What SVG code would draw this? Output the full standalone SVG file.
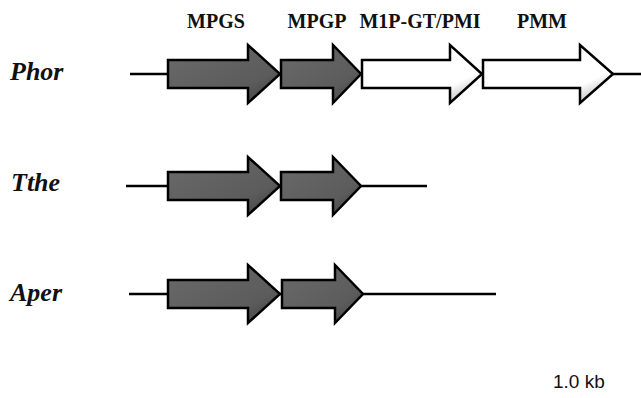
<svg xmlns="http://www.w3.org/2000/svg" width="641" height="398" viewBox="0 0 641 398">
<defs>
<linearGradient id="gd" x1="0" y1="0" x2="1" y2="1">
<stop offset="0" stop-color="#6a6a6a"/><stop offset="0.7" stop-color="#5c5c5c"/><stop offset="1" stop-color="#3e3e3e"/>
</linearGradient>
<linearGradient id="gw" x1="0" y1="0" x2="1" y2="1">
<stop offset="0" stop-color="#ffffff"/><stop offset="0.72" stop-color="#ffffff"/><stop offset="1" stop-color="#9a9a9a"/>
</linearGradient>
<style>
.ln{stroke:#000;stroke-width:2.5;fill:none}
.ad{fill:url(#gd);stroke:#000;stroke-width:2.5;stroke-linejoin:miter}
.aw{fill:url(#gw);stroke:#000;stroke-width:2.5;stroke-linejoin:miter}
.g{font-family:"Liberation Serif","Times New Roman",serif;font-weight:bold;font-size:20px;text-anchor:middle;fill:#111}
.sp{font-family:"Liberation Serif","Times New Roman",serif;font-weight:bold;font-style:italic;font-size:26px;fill:#111}
.sc{font-family:"Liberation Sans",Arial,sans-serif;font-size:19px;fill:#111}
</style>
</defs>
<g id="connectors">
<line class="ln" x1="130" y1="74" x2="641" y2="74"/>
<line class="ln" x1="126" y1="186" x2="427" y2="186"/>
<line class="ln" x1="129" y1="294" x2="496" y2="294"/>
</g>
<g id="labels">
<text class="g" x="216" y="28">MPGS</text>
<text class="g" x="317" y="28">MPGP</text>
<text class="g" x="420" y="28">M1P-GT/PMI</text>
<text class="g" x="542" y="28">PMM</text>
</g>
<g id="phor">
<text class="sp" x="10" y="80">Phor</text>
<path class="ad" d="M168,60 H248 V45 L280,74 L248,103 V88 H168 Z"/>
<path class="ad" d="M281,60 H333 V45 L361,74 L333,103 V88 H281 Z"/>
<path class="aw" d="M362,60 H450 V45 L482,74 L450,103 V88 H362 Z"/>
<path class="aw" d="M483,60 H580 V45 L613,74 L580,103 V88 H483 Z"/>
</g>
<g id="tthe">
<text class="sp" x="11" y="191">Tthe</text>
<path class="ad" d="M168,172 H248 V157 L280,186 L248,215 V200 H168 Z"/>
<path class="ad" d="M281,172 H333 V157 L361,186 L333,215 V200 H281 Z"/>
</g>
<g id="aper">
<text class="sp" x="10" y="301">Aper</text>
<path class="ad" d="M168,280 H248 V265 L280,294 L248,323 V308 H168 Z"/>
<path class="ad" d="M282,280 H335 V265 L363,294 L335,323 V308 H282 Z"/>
</g>
<g id="scale">
<text class="sc" x="553" y="388">1.0 kb</text>
</g>
</svg>
